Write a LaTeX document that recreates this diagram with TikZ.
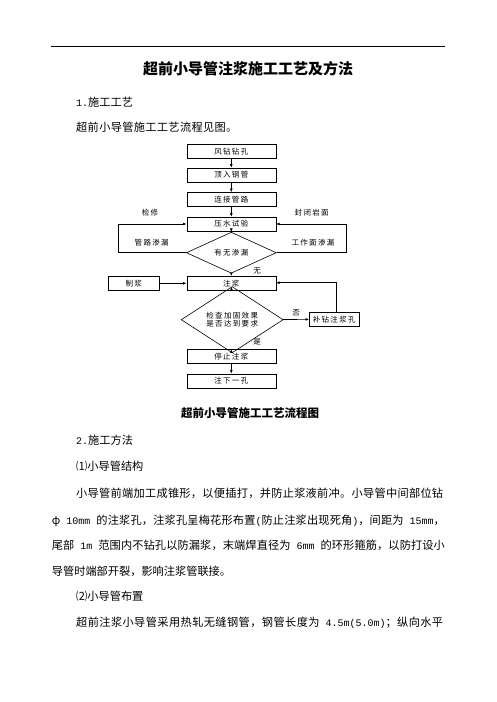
\documentclass[tikz,border=0pt]{standalone}
\usepackage{fontspec}
\setmainfont{Noto Sans CJK SC}
\newfontfamily\chartfont[LetterSpace=18]{Noto Sans CJK SC}
\newfontfamily\latmono{Liberation Mono}
\usepackage{tikz}
\usetikzlibrary{arrows.meta,shapes.geometric,calc}
\newcommand\fsz[1]{\fontsize{#1}{#1}\selectfont}
\newcommand\lat[1]{{\latmono\fsz{10}#1}}
\newcommand\msp{\kern6pt\relax}
% classes for stretching the full lines
\newcount\cjkidx
\cjkidx="4E00
\loop \XeTeXcharclass\cjkidx=1 \advance\cjkidx by 1 \ifnum\cjkidx<"A000 \repeat
\XeTeXcharclass"FF0C=3 \XeTeXcharclass"3002=3 \XeTeXcharclass"FF1B=3
\newcommand\cjkglue{\hskip 0pt plus 2pt\relax}
\XeTeXinterchartoks 1 1 = {\cjkglue}
\XeTeXinterchartoks 1 3 = {\cjkglue}
\XeTeXinterchartoks 3 1 = {\cjkglue}
\XeTeXinterchartoks 1 0 = {\cjkglue}
\XeTeXinterchartoks 0 1 = {\cjkglue}
\newcommand\jline[1]{\XeTeXinterchartokenstate=1 \parfillskip=0pt #1\par}

\begin{document}
\begin{tikzpicture}[x=1pt,y=-1pt,
        stepbox/.style={draw,line width=0.6pt,minimum width=89pt,minimum height=14pt,inner sep=0pt,font=\chartfont\fsz{7.5}},
        choice/.style={draw,line width=0.6pt,diamond,inner sep=0pt,font=\chartfont\fsz{7.5},align=center},
        flow/.style={line width=0.6pt,-{Latex[length=3.5pt,width=2.8pt]}},
        tag/.style={font=\chartfont\fsz{7.5},inner sep=0pt},
        body/.style={anchor=west,inner sep=0pt,font=\fsz{11.2}},
        wide/.style={body,text width=#1,align=justify}]
    \useasboundingbox (0,0) rectangle (496,702);
    \fill[white] (0,0) rectangle (496,702);

    % page header
    \draw[line width=0.7pt] (51,46) -- (445,46);
    \node[inner sep=0pt,font=\fsz{15}\bfseries] (title) at (248,69) {超前小导管注浆施工工艺及方法};
    \node[body] (sec1) at (76,102) {\lat{1.}施工工艺};
    \node[body,font=\addfontfeatures{LetterSpace=3}\fsz{11.2}] (intro) at (76,127) {超前小导管施工工艺流程见图。};

    % flow chart
    \node[stepbox] (drill) at (231.3,151.7) {风钻钻孔};
    \node[stepbox] (push) at (231.3,175) {顶入钢管};
    \node[stepbox] (connect) at (231.3,199.5) {连接管路};
    \node[stepbox] (test) at (231.3,224) {压水试验};
    \node[choice,minimum width=90pt,minimum height=27pt] (leak) at (231.3,252.7) {有无渗漏};
    \node[stepbox] (grout) at (231.3,283.3) {注浆};
    \node[stepbox,minimum width=50.7pt] (mix) at (133.7,283.3) {制浆};
    \node[choice,minimum width=102pt,minimum height=41pt] (check) at (232.2,319.7) {检查加固效果\\是否达到要求};
    \node[stepbox,minimum width=49.7pt] (redrill) at (334.2,319.3) {补钻注浆孔};
    \node[stepbox] (stop) at (231.3,356.7) {停止注浆};
    \node[stepbox] (nexthole) at (231.3,380.8) {注下一孔};

    \coordinate (lkl) at (118.3,252.7);
    \coordinate (lkr) at (346,252.7);
    \coordinate (rdt) at (336.7,282.7);

    \draw[flow] (drill) -- (push);
    \draw[flow] (push) -- (connect);
    \draw[flow] (connect) -- (test);
    \draw[flow] (test) -- (leak);
    \draw[flow] (leak) -- (grout);
    \draw[flow] (mix) -- (grout);
    \draw[flow] (grout) -- (check);
    \draw[flow] (check) -- (redrill);
    \draw[flow] (check) -- (stop);
    \draw[flow] (stop) -- (nexthole);
    \draw[flow] (leak.west) -- (lkl) |- (test.west);
    \draw[flow] (leak.east) -- (lkr) |- (test.east);
    \draw[flow] (redrill.north -| rdt) -- (rdt) -- (rdt -| grout.east);

    \node[tag] (repair) at (150,213) {检修};
    \node[tag] (pipeleak) at (151.7,243) {管路渗漏};
    \node[tag] (seal) at (311.7,213) {封闭岩面};
    \node[tag] (faceleak) at (313,243) {工作面渗漏};
    \node[tag] (noleak) at (257,270.7) {无};
    \node[tag] (fail) at (296,312.7) {否};
    \node[tag] (pass) at (257,341.7) {是};

    \node[inner sep=0pt,font=\fsz{11.5}\bfseries] (caption) at (250,413) {超前小导管施工工艺流程图};

    % body text
    \node[body] (sec2) at (76,440) {\lat{2.}施工方法};
    \node[body] (sub1) at (76,466.7) {⑴小导管结构};
    \node[wide=367pt] (line1) at (76,493) {\jline{小导管前端加工成锥形，以便插打，并防止浆液前冲。小导管中间部位钻}};
    \node[wide=393pt] (line2) at (51.7,521) {\jline{φ\lat{\msp 10mm\msp}的注浆孔，注浆孔呈梅花形布置\lat{(}防止注浆出现死角\lat{)}，间距为\lat{\msp 15mm}，}};
    \node[wide=393pt] (line3) at (51.7,545) {\jline{尾部\lat{\msp 1m\msp}范围内不钻孔以防漏浆，末端焊直径为\lat{\msp 6mm\msp}的环形箍筋，以防打设小}};
    \node[body] (line4) at (51.7,571.7) {导管时端部开裂，影响注浆管联接。};
    \node[body] (sub2) at (76,596.7) {⑵小导管布置};
    \node[wide=367pt] (line5) at (76,622.7) {\jline{超前注浆小导管采用热轧无缝钢管，钢管长度为\lat{\msp 4.5m(5.0m)}；纵向水平}};
\end{tikzpicture}
\end{document}
